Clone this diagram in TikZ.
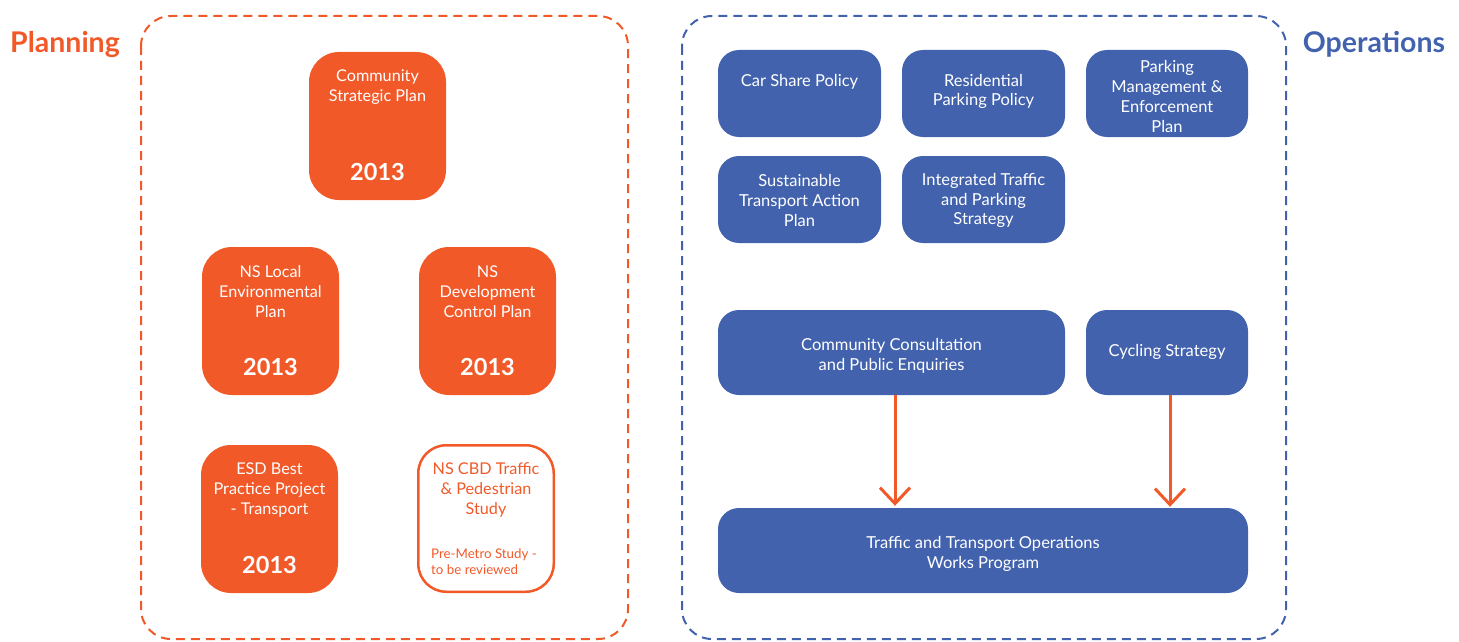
\documentclass[tikz,border=0pt]{standalone}
\usepackage{fontspec}
\setmainfont{Lato}
\usetikzlibrary{arrows.meta}
\definecolor{planorange}{RGB}{241,89,41}
\definecolor{opsblue}{RGB}{66,98,174}

\tikzset{
  planbox/.style={fill=planorange, rounded corners=30pt, minimum width=137pt, minimum height=148pt, inner sep=0pt},
  planline/.style={draw=planorange, line width=2.5pt, rounded corners=28pt, minimum width=135.5pt, minimum height=146.5pt, inner sep=0pt},
  plantext/.style={text=white, align=center, inner sep=0pt, anchor=north, font=\fontsize{16.2}{20}\selectfont},
  planyear/.style={text=white, inner sep=0pt, font=\fontsize{23.5}{26}\selectfont\bfseries},
  opsbox/.style={fill=opsblue, rounded corners=21pt, minimum width=163pt, minimum height=87pt, inner sep=0pt},
  opstext/.style={text=white, align=center, inner sep=0pt, font=\fontsize{16.5}{19.7}\selectfont},
  frame/.style={line width=2pt, dash pattern=on 9pt off 6pt, rounded corners=30pt},
  heading/.style={inner sep=0pt, font=\fontsize{28.5}{32}\selectfont\bfseries},
  flow/.style={draw=planorange, line width=3pt, -{Straight Barb[length=16pt, width=30pt]}}
}

\begin{document}
\begin{tikzpicture}[x=1pt, y=-1pt]
    \useasboundingbox (0,0) rectangle (1459,642);

    % Frames and headings
    \draw [frame, planorange] (141,16) rectangle (628,639);
    \draw [frame, opsblue] (682,16) rectangle (1286,639);
    \node [heading, text=planorange] (planning) at (65,44) {Planning};
    \node [heading, text=opsblue] (operations) at (1374,44) {Operations};

    % Planning documents
    \node [planbox] (csp) at (377.5,126) {};
    \node [plantext] (cspT) at ([yshift=-18pt]csp.north) {Community\\Strategic Plan};
    \node [planyear] (cspY) at ([yshift=28pt]csp.south) {2013};

    \node [planbox] (lep) at (270.5,321) {};
    \node [plantext] (lepT) at ([yshift=-19pt]lep.north) {NS Local\\Environmental\\Plan};
    \node [planyear] (lepY) at ([yshift=28pt]lep.south) {2013};

    \node [planbox] (dcp) at (487.5,321) {};
    \node [plantext] (dcpT) at ([yshift=-19pt]dcp.north) {NS\\Development\\Control Plan};
    \node [planyear] (dcpY) at ([yshift=28pt]dcp.south) {2013};

    \node [planbox] (esd) at (269.5,519) {};
    \node [plantext] (esdT) at ([yshift=-18pt]esd.north) {ESD Best\\Practice Project\\- Transport};
    \node [planyear] (esdY) at ([yshift=28pt]esd.south) {2013};

    \node [planline] (cbd) at (486,518.5) {};
    \node [plantext, text=planorange] (cbdT) at ([yshift=-18pt]cbd.north) {NS CBD Traffic\\\& Pedestrian\\Study};
    \node [text=planorange, align=left, inner sep=0pt, anchor=west, font=\fontsize{13.3}{16}\selectfont]
        (cbdN) at ([xshift=14pt, yshift=-43pt]cbd.west) {Pre-Metro Study -\\to be reviewed};

    % Operations documents
    \node [opsbox] (car) at (799.5,93.5) {};
    \node [opstext] (carT) at ([yshift=11.5pt]car.center) {Car Share Policy};

    \node [opsbox] (res) at (983.5,93.5) {};
    \node [opstext] (resT) at ([yshift=2pt]res.center) {Residential\\Parking Policy};

    \node [opsbox, minimum width=162pt] (pme) at (1167,93.5) {};
    \node [opstext] (pmeT) at ([yshift=-3pt]pme.center) {Parking\\Management \&\\Enforcement\\Plan};

    \node [opsbox] (stap) at (799.5,199.5) {};
    \node [opstext] (stapT) at ([yshift=-1pt]stap.center) {Sustainable\\Transport Action\\Plan};

    \node [opsbox] (itps) at (983.5,199.5) {};
    \node [opstext] (itpsT) at ([yshift=-1pt]itps.center) {Integrated Traffic\\and Parking\\Strategy};

    \node [opsbox, minimum width=347pt, minimum height=85pt] (ccp) at (891.5,352.5) {};
    \node [opstext] (ccpT) at ([yshift=-3pt]ccp.center) {Community Consultation\\and Public Enquiries};

    \node [opsbox, minimum width=162pt, minimum height=85pt] (cyc) at (1167,352.5) {};
    \node [opstext] (cycT) at ([yshift=0.5pt]cyc.center) {Cycling Strategy};

    \node [opsbox, minimum width=530pt, minimum height=85pt] (works) at (983,550.5) {};
    \node [opstext] (worksT) at ([yshift=-3.5pt]works.center) {Traffic and Transport Operations\\Works Program};

    % Flows into the works program
    \draw [flow, shorten >=2pt] ([xshift=3.5pt]ccp.south) -- ([xshift=3.5pt]ccp.south |- works.north);
    \draw [flow, shorten >=1pt] ([xshift=3pt]cyc.south) -- ([xshift=3pt]cyc.south |- works.north);
\end{tikzpicture}
\end{document}
